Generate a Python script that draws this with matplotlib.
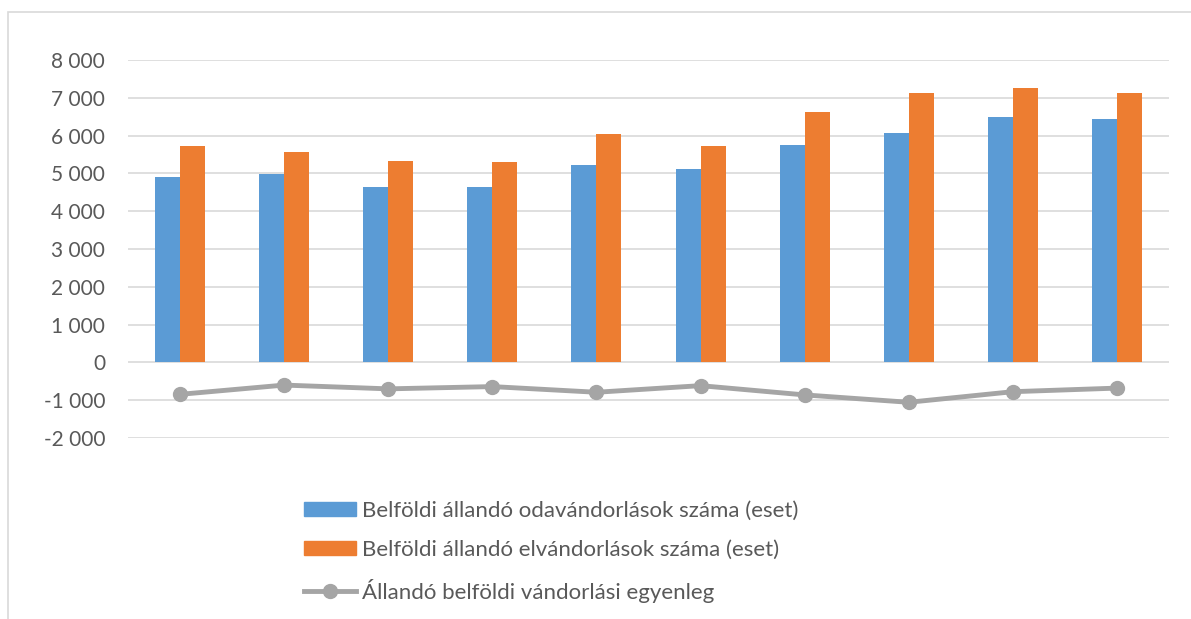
import matplotlib
matplotlib.use("Agg")
import matplotlib.pyplot as plt
import numpy as np
from matplotlib.ticker import FuncFormatter
from matplotlib.patches import Rectangle
from matplotlib.lines import Line2D

plt.rcParams['font.family'] = ['Lato', 'DejaVu Sans']

# values
years = ["1", "2", "3", "4", "5", "6", "7", "8", "9", "10"]
odavandorlas = [4900, 4975, 4630, 4650, 5230, 5115, 5750, 6065, 6480, 6435]
elvandorlas = [5730, 5555, 5330, 5300, 6030, 5730, 6630, 7140, 7270, 7130]
egyenleg = [-845, -600, -700, -640, -790, -615, -860, -1055, -775, -680]

labels = ["Belföldi állandó odavándorlások száma (eset)",
          "Belföldi állandó elvándorlások száma (eset)",
          "Állandó belföldi vándorlási egyenleg"]

blue = "#5B9BD5"
orange = "#ED7D31"
grey = "#A5A5A5"
txt = "#595959"

fig = plt.figure(figsize=(11.91, 6.19), dpi=100)
ax = fig.add_axes([128 / 1191, 1 - 438 / 619, 1041 / 1191, 378 / 619])

x = np.arange(len(years))
w = 0.24
ax.bar(x - w / 2, odavandorlas, w, color=blue, zorder=2)
ax.bar(x + w / 2, elvandorlas, w, color=orange, zorder=2)
ax.plot(x, egyenleg, color=grey, lw=3.5, marker="o", ms=10, zorder=3)

ax.set_xlim(-0.5, len(years) - 0.5)
ax.set_ylim(-2000, 8000)
ax.set_yticks(np.arange(-2000, 8001, 1000))
ax.yaxis.set_major_formatter(FuncFormatter(
    lambda v, p: "{:,.0f}".format(v).replace(",", " ")))
ax.tick_params(axis="y", length=0, pad=16.5, labelsize=15, labelcolor=txt)
ax.set_xticks([])
ax.grid(axis="y", color="#D9D9D9", lw=1.2, zorder=0)
for s in ax.spines.values():
    s.set_visible(False)

# chart border
fig.patches.append(Rectangle((8 / 1191, -0.1), 1.1, 1.1 - 12 / 619,
                             transform=fig.transFigure, fill=False,
                             edgecolor="#D9D9D9", lw=1.2))

handles = [Rectangle((0, 0), 1, 1, color=blue),
           Rectangle((0, 0), 1, 1, color=orange),
           Line2D([], [], color=grey, lw=3.5, marker="o", ms=10)]
fig.legend(handles, labels, loc="upper left",
           bbox_to_anchor=(284 / 1191, 1 - 481 / 619), frameon=False,
           fontsize=16, labelcolor=txt, handlelength=2.34, handleheight=0.59,
           handletextpad=0.27, labelspacing=0.85)

fig.savefig("out.png", dpi=100)
